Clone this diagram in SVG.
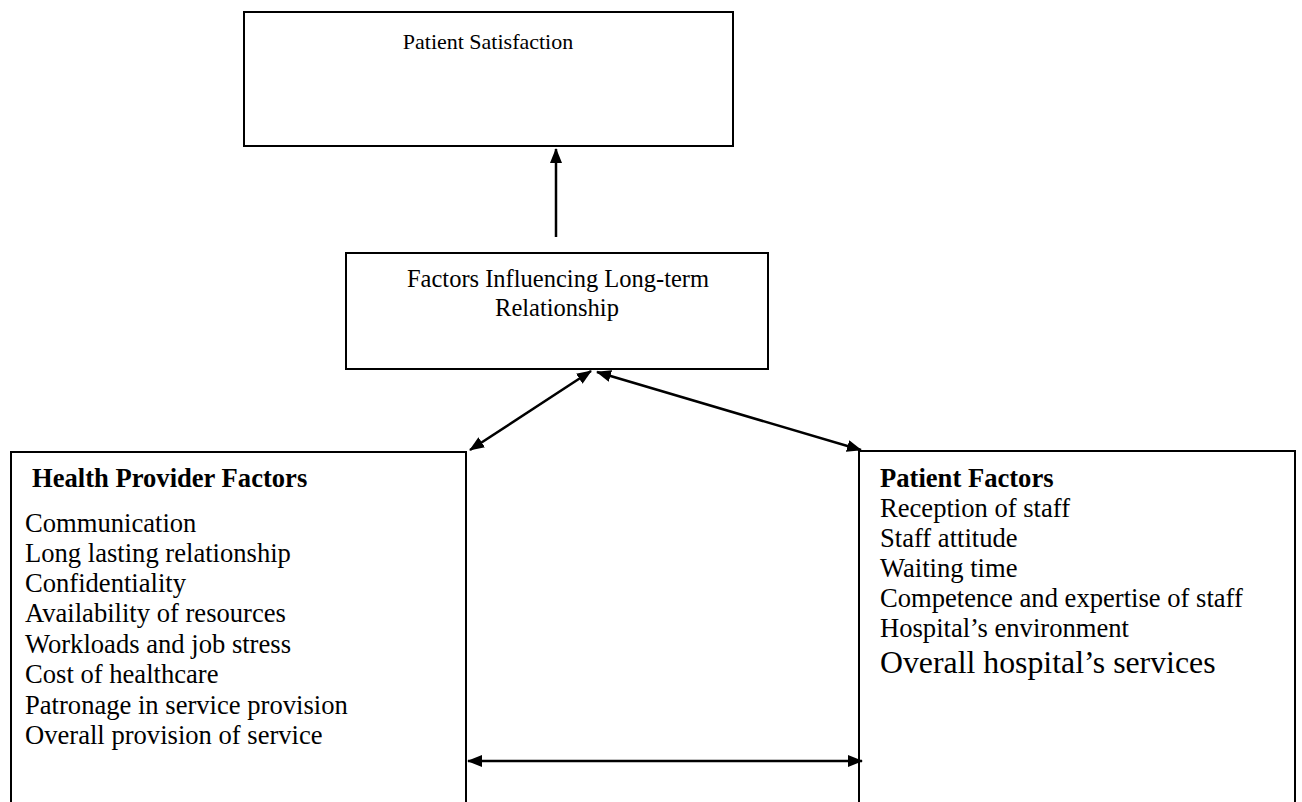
<svg xmlns="http://www.w3.org/2000/svg" width="1302" height="802" viewBox="0 0 1302 802">
<style>
.box{fill:#fff;stroke:#000;stroke-width:2}
.t{font-family:"Liberation Serif","Times New Roman",serif;fill:#000}
.ln{stroke:#000;stroke-width:2.5;fill:none}
</style>
<defs>
<marker id="ah" viewBox="0 0 15 12" refX="14" refY="6" markerWidth="15" markerHeight="12" markerUnits="userSpaceOnUse" orient="auto-start-reverse">
<path d="M0,0 L15,6 L0,12 z" fill="#000"/>
</marker>
</defs>
<rect width="1302" height="802" fill="#fff"/>
<g id="patient-satisfaction">
<rect class="box" x="244" y="12" width="489" height="134"/>
<text class="t" x="488" y="49" font-size="22" text-anchor="middle">Patient Satisfaction</text>
</g>
<g id="long-term-factors">
<rect class="box" x="346" y="253" width="422" height="116"/>
<text class="t" x="558" y="287" font-size="24.5" text-anchor="middle">Factors Influencing Long-term</text>
<text class="t" x="557" y="316" font-size="24.5" text-anchor="middle">Relationship</text>
</g>
<g id="health-provider-factors">
<path class="box" d="M11,812 L11,452 L466,452 L466,812"/>
<text class="t" x="32" y="487" font-size="26.6" font-weight="bold">Health Provider Factors</text>
<g class="t" font-size="26.6">
<text x="25" y="532">Communication</text>
<text x="25" y="562">Long lasting relationship</text>
<text x="25" y="592">Confidentiality</text>
<text x="25" y="622">Availability of resources</text>
<text x="25" y="653">Workloads and job stress</text>
<text x="25" y="683">Cost of healthcare</text>
<text x="25" y="714">Patronage in service provision</text>
<text x="25" y="744">Overall provision of service</text>
</g>
</g>
<g id="patient-factors">
<path class="box" d="M859,812 L859,451 L1295,451 L1295,812"/>
<text class="t" x="880" y="487" font-size="26.6" font-weight="bold">Patient Factors</text>
<g class="t" font-size="26.6">
<text x="880" y="517">Reception of staff</text>
<text x="880" y="547">Staff attitude</text>
<text x="880" y="577">Waiting time</text>
<text x="880" y="607">Competence and expertise of staff</text>
<text x="880" y="637">Hospital’s environment</text>
</g>
<text class="t" x="880" y="673" font-size="31.8">Overall hospital’s services</text>
</g>
<g id="connectors">
<line class="ln" x1="556" y1="237" x2="556" y2="149" marker-end="url(#ah)"/>
<line class="ln" x1="470" y1="450" x2="591" y2="371" marker-start="url(#ah)" marker-end="url(#ah)"/>
<line class="ln" x1="597" y1="372" x2="861" y2="450" marker-start="url(#ah)" marker-end="url(#ah)"/>
<line class="ln" x1="468" y1="761" x2="862" y2="761" marker-start="url(#ah)" marker-end="url(#ah)"/>
</g>
</svg>
